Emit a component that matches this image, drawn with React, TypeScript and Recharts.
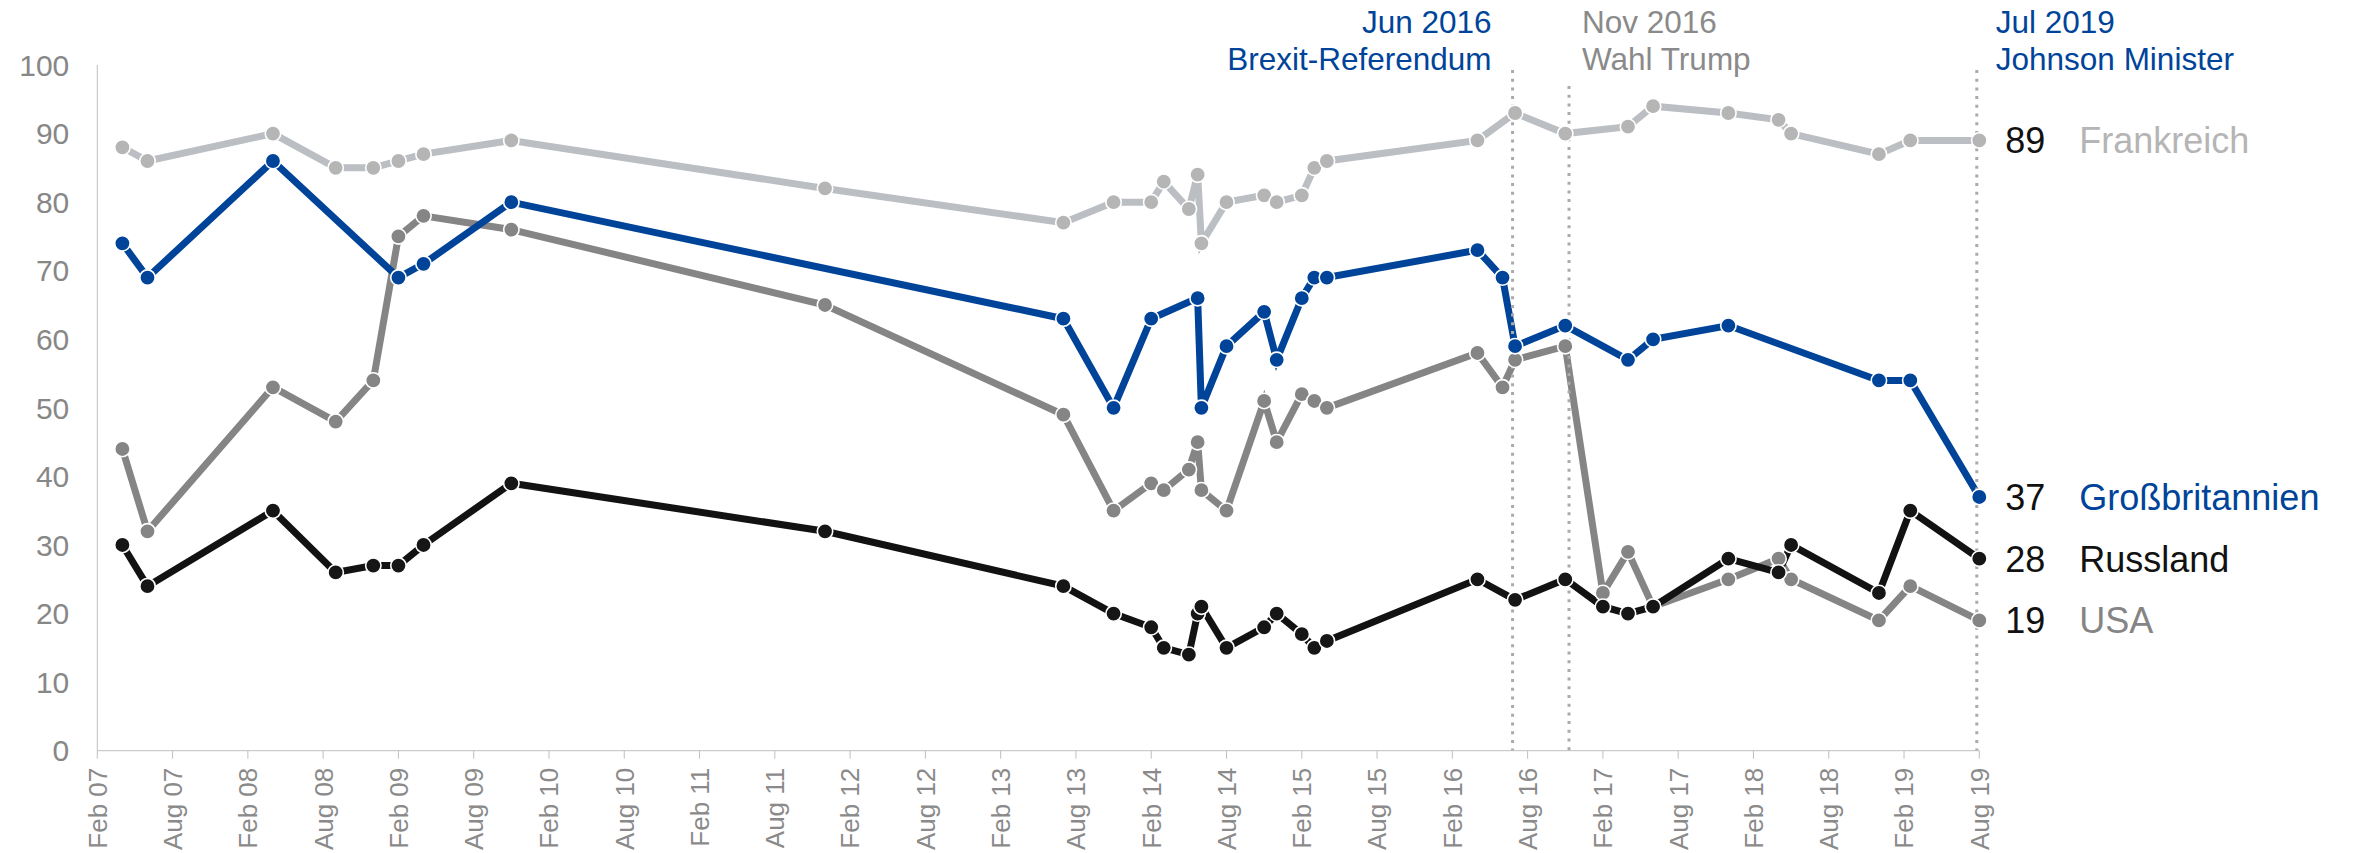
import { LineChart, Line, XAxis, YAxis, ReferenceLine } from "recharts";

// months counted from Feb 2007
const xTicks = [0, 6, 12, 18, 24, 30, 36, 42, 48, 54, 60, 66, 72, 78, 84, 90, 96, 102, 108, 114, 120, 126, 132, 138, 144, 150];
const xTickLabels = [
  "Feb 07", "Aug 07", "Feb 08", "Aug 08", "Feb 09", "Aug 09", "Feb 10", "Aug 10", "Feb 11",
  "Aug 11", "Feb 12", "Aug 12", "Feb 13", "Aug 13", "Feb 14", "Aug 14", "Feb 15", "Aug 15",
  "Feb 16", "Aug 16", "Feb 17", "Aug 17", "Feb 18", "Aug 18", "Feb 19", "Aug 19",
];
const yTicks = [0, 10, 20, 30, 40, 50, 60, 70, 80, 90, 100];

const frMonths = [2, 4, 14, 19, 22, 24, 26, 33, 58, 77, 81, 84, 85, 87, 87.7, 88, 90, 93, 94, 96, 97, 98, 110, 113, 117, 122, 124, 130, 134, 135, 142, 144.5, 150];
const frValues = [88, 86, 90, 85, 85, 86, 87, 89, 82, 77, 80, 80, 83, 79, 84, 74, 80, 81, 80, 81, 85, 86, 89, 93, 90, 91, 94, 93, 92, 90, 87, 89, 89];

const gbMonths = [2, 4, 14, 24, 26, 33, 77, 81, 84, 87.7, 88, 90, 93, 94, 96, 97, 98, 110, 112, 113, 117, 122, 124, 130, 142, 144.5, 150];
const gbValues = [74, 69, 86, 69, 71, 80, 63, 50, 63, 66, 50, 59, 64, 57, 66, 69, 69, 73, 69, 59, 62, 57, 60, 62, 54, 54, 37];

const usMonths = [2, 4, 14, 19, 22, 24, 26, 33, 58, 77, 81, 84, 85, 87, 87.7, 88, 90, 93, 94, 96, 97, 98, 110, 112, 113, 117, 120, 122, 124, 130, 134, 135, 142, 144.5, 150];
const usValues = [44, 32, 53, 48, 54, 75, 78, 76, 65, 49, 35, 39, 38, 41, 45, 38, 35, 51, 45, 52, 51, 50, 58, 53, 57, 59, 23, 29, 21, 25, 28, 25, 19, 24, 19];

const ruMonths = [2, 4, 14, 19, 22, 24, 26, 33, 58, 77, 81, 84, 85, 87, 87.7, 88, 90, 93, 94, 96, 97, 98, 110, 113, 117, 120, 122, 124, 130, 134, 135, 142, 144.5, 150];
const ruValues = [30, 24, 35, 26, 27, 27, 30, 39, 32, 24, 20, 18, 15, 14, 20, 21, 15, 18, 20, 17, 15, 16, 25, 22, 25, 21, 20, 21, 28, 26, 30, 23, 35, 28];

const eventMonths = [112.8, 117.3, 149.8];
const eventDates = ["Jun 2016", "Nov 2016", "Jul 2019"];
const eventTexts = ["Brexit-Referendum", "Wahl Trump", "Johnson Minister"];

const BLUE = "#00449a";
const FONT = "'Liberation Sans', Arial, sans-serif";

const toData = (months: number[], values: number[]) => months.map((m, i) => ({ m, v: values[i] }));

const series = [
  { name: "Frankreich", data: toData(frMonths, frValues), line: "#bbbfc3", dot: "#b5b5b5", text: "#b5b5b5" },
  { name: "USA", data: toData(usMonths, usValues), line: "#858585", dot: "#858585", text: "#858585" },
  { name: "Russland", data: toData(ruMonths, ruValues), line: "#121212", dot: "#161616", text: "#121212" },
  { name: "Großbritannien", data: toData(gbMonths, gbValues), line: BLUE, dot: BLUE, text: BLUE },
];

const eventStyle = [
  { color: BLUE, anchor: "end", dx: -21, top: 5 },
  { color: "#8a8a8a", anchor: "start", dx: 13, top: 21 },
  { color: BLUE, anchor: "start", dx: 19, top: 5 },
];

function XTick({ x, y, payload }: any) {
  const idx = xTicks.indexOf(payload.value);
  return (
    <g transform={`translate(${x},${y})`}>
      <text
        transform="rotate(-90)"
        x={-9}
        y={0}
        dy="0.36em"
        textAnchor="end"
        fill="#8a8a8a"
        fontSize={26}
        fontFamily={FONT}
      >
        {xTickLabels[idx]}
      </text>
    </g>
  );
}

function makeEndLabel(name: string, color: string, last: number) {
  return (props: any) => {
    const { x, y, index, value } = props;
    if (index !== last) return null;
    return (
      <g>
        <text x={x + 26} y={y} dy="0.36em" fill="#111" fontSize={36} fontFamily={FONT}>
          {value}
        </text>
        <text x={x + 100} y={y} dy="0.36em" fill={color} fontSize={36} fontFamily={FONT}>
          {name}
        </text>
      </g>
    );
  };
}

function makeEventShape(i: number) {
  const st = eventStyle[i];
  return (p: any) => {
    const x = p.x1;
    const top = Math.min(p.y1, p.y2);
    const bottom = Math.max(p.y1, p.y2);
    return (
      <g>
        <line
          x1={x}
          x2={x}
          y1={top + st.top}
          y2={bottom}
          stroke="#aaaaaa"
          strokeWidth={3}
          strokeDasharray="3 5.7"
        />
        <text x={x + st.dx} y={33} textAnchor={st.anchor} fill={st.color} fontSize={31.5} fontFamily={FONT}>
          {eventDates[i]}
        </text>
        <text x={x + st.dx} y={70} textAnchor={st.anchor} fill={st.color} fontSize={31.5} fontFamily={FONT}>
          {eventTexts[i]}
        </text>
      </g>
    );
  };
}

export default function App() {
  return (
    <div style={{ position: "absolute", left: 0, top: 0, width: 2356, height: 853, background: "#fff" }}>
      <LineChart
        width={2356}
        height={853}
        margin={{ top: 65, right: 376.7, left: 0, bottom: 0 }}
      >
        <XAxis
          dataKey="m"
          type="number"
          domain={[0, 150]}
          ticks={xTicks}
          interval={0}
          height={102.3}
          stroke="#bfbfbf"
          tickSize={8}
          tickMargin={0}
          tick={<XTick />}
          allowDuplicatedCategory={false}
        />
        <YAxis
          type="number"
          domain={[0, 100]}
          ticks={yTicks}
          interval={0}
          width={97.3}
          stroke="#bfbfbf"
          tickLine={false}
          tickSize={0}
          tickMargin={28}
          tick={{ fill: "#878787", fontSize: 30, fontFamily: FONT }}
        />
        {series.map((s) => (
          <Line
            key={s.name}
            data={s.data}
            dataKey="v"
            name={s.name}
            type="linear"
            stroke={s.line}
            strokeWidth={7}
            dot={{ r: 7.7, fill: s.dot, stroke: "#fff", strokeWidth: 1.6 }}
            activeDot={false}
            label={makeEndLabel(s.name, s.text, s.data.length - 1)}
            isAnimationActive={false}
          />
        ))}
        {eventMonths.map((m, i) => (
          <ReferenceLine key={m} x={m} shape={makeEventShape(i)} />
        ))}
      </LineChart>
    </div>
  );
}
